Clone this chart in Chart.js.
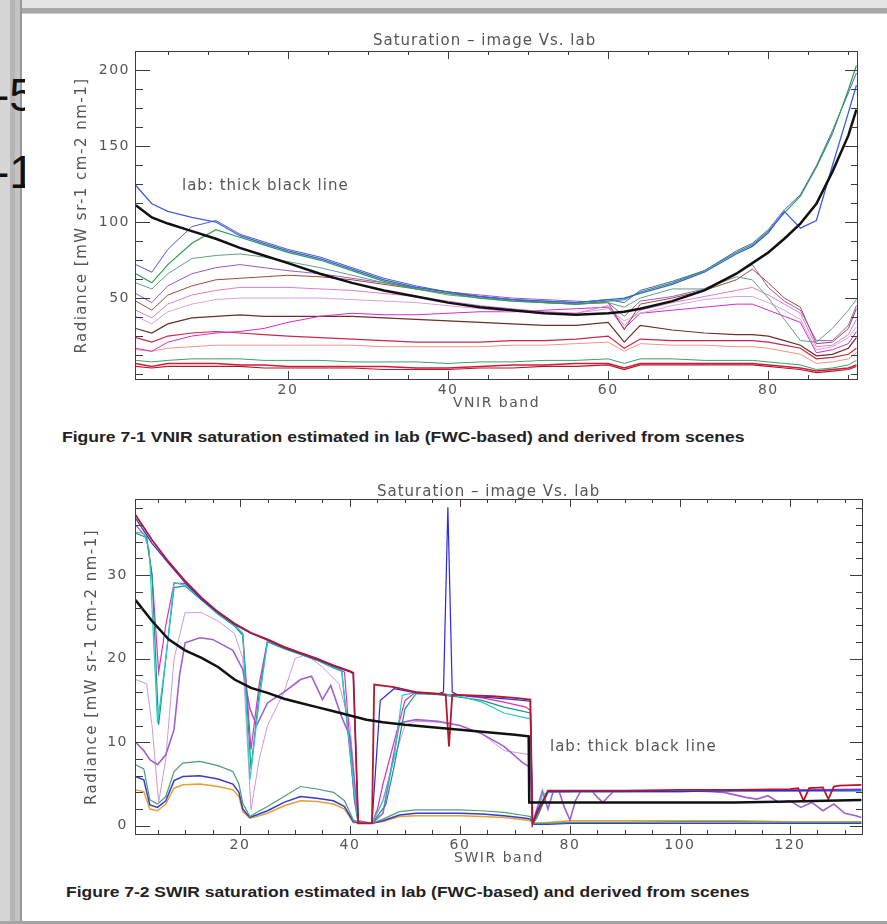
<!DOCTYPE html>
<html>
<head>
<meta charset="utf-8">
<script src="https://cdn.jsdelivr.net/npm/chart.js@4.4.0/dist/chart.umd.min.js"></script>
<style>
  body { margin: 0; width: 887px; height: 924px; background: #fff; position: relative; overflow: hidden; font-family: "DejaVu Sans", sans-serif; }
  .band-top { position: absolute; left: 0; top: 0; width: 887px; height: 14px;
    background: linear-gradient(#e4e4e4 0, #e4e4e4 8px, #a8a8a8 8px, #a8a8a8 13px, #cfcfcf 13px); }
  .band-left { position: absolute; left: 0; top: 0; width: 22px; height: 924px;
    background: linear-gradient(90deg, #d6d6d6 0, #d6d6d6 10px, #b6b6b6 10px, #b6b6b6 15px, #c4c4c4 15px, #c4c4c4 20px, #989898 20px); }
  .band-bottom { position: absolute; left: 0; top: 921px; width: 887px; height: 3px; background: #a4a4a4; }
  .behind { position: absolute; left: -6px; font: 46px "Liberation Sans", Arial, sans-serif; color: #111; line-height: 46px; }
  .clip { position: absolute; left: 0; top: 0; width: 25px; height: 924px; overflow: hidden; }
  .box { position: absolute; }
  .idl { position: absolute; color: #555; font-size: 15px; letter-spacing: 1px; white-space: nowrap; }
  .caption { position: absolute; font: bold 14px "Liberation Sans", Arial, sans-serif; color: #222; white-space: nowrap; transform-origin: left center; }
</style>
</head>
<body>
<div class="band-top"></div>
<div class="band-left"></div>
<div class="band-bottom"></div>
<div class="clip">
  <div class="behind" style="top:72px">-5</div>
  <div class="behind" style="top:149px">-1</div>
</div>

<div class="box" style="left:22px; top:14px"><canvas id="vnir" width="865" height="406"></canvas></div>
<div class="box" style="left:22px; top:445px"><canvas id="swir" width="865" height="430"></canvas></div>

<div class="idl" style="left:373px; top:31px">Saturation – image Vs. lab</div>
<div class="idl" style="left:182px; top:176px">lab: thick black line</div>
<div class="idl" style="left:377px; top:482px">Saturation – image Vs. lab</div>
<div class="idl" style="left:550px; top:737px">lab: thick black line</div>

<div class="caption" id="cap1" style="left:62px; top:429px">Figure 7-1 VNIR saturation estimated in lab (FWC-based) and derived from scenes</div>
<div class="caption" id="cap2" style="left:66px; top:884px">Figure 7-2 SWIR saturation estimated in lab (FWC-based) and derived from scenes</div>

<script>
// ---------- VNIR (top panel) ----------
const vnirBands = [1, 3, 5, 8, 11, 14, 17, 20, 24, 28, 32, 36, 40, 44, 48, 52, 56, 60, 62, 64, 68, 72, 76, 78, 80, 82, 84, 86, 88, 90, 91];
const vnirTicksX = [20, 40, 60, 80];
const vnirTicksY = [50, 100, 150, 200];

const vnirLab       = [111, 103, 99, 94, 89, 83, 78, 73, 66, 60, 55, 51, 47, 44, 42, 40, 39, 40, 41, 43, 48, 55, 66, 73, 80, 89, 99, 112, 133, 157, 174];
const vnirBlue      = [124, 112, 107, 103, 100, 91, 86, 81, 76, 69, 62, 57, 54, 51, 49, 48, 47, 49, 50, 53, 59, 67, 79, 84, 93, 107, 96, 101, 137, 172, 190];
const vnirGreen     = [66, 60, 72, 86, 95, 90, 85, 80, 75, 68, 61, 56, 53, 50, 48, 47, 46, 48, 49, 54, 60, 68, 80, 85, 94, 106, 117, 136, 158, 187, 203];
const vnirBlue2     = [72, 67, 82, 97, 101, 92, 87, 82, 77, 70, 63, 58, 54, 51, 49, 48, 47, 49, 47, 55, 61, 68, 81, 86, 95, 108, 118, 137, 160, 185, 198];
const vnirTeal      = [60, 56, 66, 76, 78, 79, 77, 74, 70, 65, 60, 56, 52, 50, 48, 47, 46, 47, 44, 50, 56, 56, 64, 62, 50, 36, 22, 21, 30, 42, 49];
const vnirPurple    = [53, 47, 58, 66, 70, 72, 70, 68, 66, 63, 60, 57, 54, 52, 50, 49, 48, 47, 38, 48, 51, 56, 66, 72, 57, 48, 42, 22, 22, 32, 45];
const vnirBrown     = [48, 42, 52, 58, 62, 63, 64, 65, 64, 62, 59, 56, 53, 51, 49, 47, 46, 47, 29, 46, 50, 55, 62, 69, 60, 50, 44, 20, 21, 30, 43];
const vnirPink      = [42, 37, 46, 52, 55, 57, 57, 57, 56, 55, 53, 51, 48, 45, 43, 41, 40, 45, 32, 42, 47, 51, 55, 57, 52, 46, 40, 18, 19, 26, 36];
const vnirLilac     = [38, 33, 41, 46, 49, 50, 50, 50, 50, 49, 48, 47, 45, 43, 41, 41, 40, 43, 35, 40, 45, 49, 51, 51, 47, 42, 36, 16, 18, 24, 31];
const vnirMagenta   = [17, 15, 21, 25, 27, 28, 30, 34, 38, 40, 39, 39, 40, 41, 41, 42, 43, 44, 30, 40, 42, 44, 46, 46, 42, 38, 34, 14, 16, 20, 28];
const vnirDarkBrown = [30, 27, 33, 37, 38, 39, 38, 38, 38, 38, 37, 36, 35, 34, 33, 32, 32, 34, 21, 32, 29, 27, 26, 26, 25, 22, 19, 12, 13, 17, 24];
const vnirRed       = [24, 21, 25, 27, 28, 27, 26, 25, 24, 23, 22, 21, 21, 21, 22, 22, 23, 25, 17, 23, 22, 22, 22, 22, 21, 19, 17, 10, 11, 13, 17];
const vnirSalmon    = [16, 15, 17, 18, 19, 19, 19, 19, 19, 19, 18, 18, 18, 18, 19, 19, 20, 21, 15, 20, 19, 19, 18, 18, 17, 15, 13, 7, 8, 10, 14];
const vnirGreenLow  = [9, 8, 9, 10, 10, 10, 9, 9, 9, 8, 8, 8, 7, 8, 8, 9, 9, 10, 7, 10, 10, 9, 9, 9, 8, 7, 6, 3, 4, 6, 9];
const vnirRedLow    = [7, 5, 7, 7, 7, 6, 6, 5, 5, 5, 5, 4, 4, 5, 6, 6, 7, 7, 4, 7, 7, 7, 7, 7, 6, 5, 4, 2, 3, 4, 6];
const vnirRedLow2   = [5, 4, 5, 5, 5, 5, 4, 4, 4, 4, 3, 3, 3, 4, 4, 5, 5, 6, 3, 6, 6, 6, 6, 6, 5, 4, 3, 1, 2, 3, 5];

// ---------- SWIR (bottom panel) ----------
const swirTicksX = [20, 40, 60, 80, 100, 120];
const swirTicksY = [0, 10, 20, 30];

const swirLabBands = [1, 4, 7, 10, 13, 16, 19, 22, 25, 28, 31, 34, 37, 40, 43, 46, 50, 55, 60, 65, 70, 72.5, 72.6, 80, 90, 100, 110, 120, 133];
const swirLab      = [27, 24.5, 22.3, 21, 20.1, 19, 17.5, 16.5, 15.9, 15.2, 14.7, 14.2, 13.7, 13.2, 12.7, 12.4, 12.1, 11.8, 11.5, 11.2, 10.9, 10.7, 2.8, 2.8, 2.8, 2.8, 2.8, 2.9, 3.1];

const swirRedBands = [1, 4, 7, 10, 13, 16, 19, 22, 25, 28, 31, 34, 37, 40, 40.6, 41.5, 44, 44.4, 48, 52, 56, 57.4, 58, 58.6, 62, 66, 70, 72.8, 73.2, 74, 76, 80, 90, 100, 110, 120, 121.5, 122.5, 123.5, 126, 127, 128, 129, 133];
const swirRed      = [37.2, 34.2, 31.6, 29.3, 27.3, 25.6, 24.2, 23.1, 22.3, 21.4, 20.7, 20, 19.2, 18.5, 18.3, 0.3, 0.3, 16.9, 16.6, 16, 15.8, 15.7, 9.5, 15.7, 15.6, 15.5, 15.3, 15.1, 0.2, 1.5, 4.2, 4.2, 4.2, 4.3, 4.3, 4.4, 4.5, 3, 4.5, 4.6, 3.2, 4.7, 4.8, 4.9];

const swirBlueBands = [1, 4, 7, 10, 13, 16, 19, 22, 25, 28, 31, 34, 37, 40, 40.6, 41.5, 44, 45.5, 48, 52, 56, 57, 57.8, 58.6, 59.5, 62, 66, 70, 72.8, 73.2, 74, 76, 80, 90, 100, 110, 120, 133];
const swirBlue      = [36.8, 33.8, 31.4, 29.1, 27.1, 25.5, 24.1, 23, 22.2, 21.3, 20.6, 19.9, 19.1, 18.4, 18.2, 0.3, 0.3, 15, 16.4, 15.9, 15.8, 16, 38.1, 16, 15.7, 15.5, 15.3, 15.1, 14.9, 0.2, 1.8, 4.1, 4.1, 4.1, 4.1, 4.2, 4.2, 4.3];

const swirCyanBands = [1, 2.5, 3.5, 5, 6.5, 8, 10, 13, 16, 19, 20.5, 21.8, 23.5, 25, 28, 31, 34, 37, 38.5, 40.8, 41.5, 44, 46, 48, 49.5, 52, 56, 60, 64, 68, 72.8, 73.2, 74, 75, 77, 80, 90, 100, 110, 120, 133];
const swirCyan      = [35.1, 35, 33, 12.3, 20, 29.1, 28.8, 27.1, 25.4, 24, 23, 5.5, 15, 22.1, 21.3, 20.6, 19.9, 19, 18.6, 4, 0.3, 0.3, 3, 8, 15.6, 16, 15.8, 15.5, 14.8, 13.5, 12.8, 0.2, 1.2, 3.8, 4.1, 4.1, 4.1, 4.2, 4.2, 4.2, 4.2];

const swirTealBands = [1, 3, 4, 5.2, 6.5, 8, 10, 13, 16, 19, 20.5, 22, 23.5, 25, 28, 31, 34, 37, 38.5, 40.8, 41.5, 44, 46.5, 48, 50, 52, 56, 60, 64, 68, 72.8, 73.2, 74, 76, 78, 80, 90, 100, 110, 120, 133];
const swirTeal      = [35, 34.5, 30, 12.1, 20, 28.5, 28.7, 27, 25.3, 23.9, 22.8, 6.8, 16, 22, 21.2, 20.5, 19.8, 18.9, 18.5, 3.5, 0.3, 0.3, 2.5, 7, 14, 15.8, 15.7, 15.4, 15, 14.2, 13.5, 0.2, 1, 4, 4.1, 4.1, 4.1, 4.1, 4.2, 4.2, 4.2];

const swirMagBands = [1, 3, 4, 5.2, 6.5, 8, 10, 13, 16, 19, 20.5, 22, 23.5, 25, 28, 31, 34, 37, 39, 40.8, 41.5, 44, 45, 46, 48, 50, 52, 56, 60, 64, 68, 72, 72.8, 73.2, 74, 76, 78, 80, 82, 90, 100, 110, 120, 133];
const swirMagenta  = [36, 34.5, 30, 18.4, 24, 29, 29, 27.2, 25.5, 24, 23, 9.1, 17, 22.2, 21.4, 20.7, 20, 19.1, 18.4, 3, 0.3, 0.3, 2, 5, 10, 15, 16, 15.8, 15.6, 15.3, 14.8, 14.2, 13.8, 0.2, 1, 4.1, 4.1, 4.1, 4.2, 4.2, 4.2, 4.3, 4.3, 4.4];

const swirPurpleBands = [1, 2.5, 3.6, 5, 6.5, 8, 9, 10, 12.7, 15, 18.7, 20.5, 21.8, 23, 25, 28, 31, 33, 34, 35, 36.5, 38.5, 40, 41.5, 44, 46, 49, 52, 56, 60, 64, 68, 71.5, 72.8, 73.2, 74, 75, 76, 77, 78, 79, 80, 81, 82, 84, 85, 86, 87, 88, 90, 95, 100, 105, 108, 110, 112, 114, 116, 118, 120, 122, 124, 126, 128, 130, 132, 133];
const swirPurple      = [10, 9, 7.9, 7.3, 8.5, 11.5, 18, 21.9, 22.5, 22.3, 21, 18.7, 14, 12, 14.7, 16, 17.5, 17.9, 16.5, 15.1, 16.8, 13, 10.7, 0.6, 0.3, 1.5, 12.3, 12.7, 12.5, 12, 11, 9.5, 7.5, 7, 0.3, 2, 4.2, 2, 4.2, 4.2, 2.2, 0.7, 3, 4.2, 4.2, 3.4, 2.8, 3.5, 4.2, 4.2, 4.2, 4.2, 4.1, 4, 3.7, 3.4, 3.2, 3.6, 2.8, 3, 2.2, 2.8, 1.8, 2.6, 1.5, 1.2, 1];

const swirLilacBands = [1, 3, 4, 5.2, 6.5, 8, 10, 13, 16, 19, 20.5, 22, 23.5, 25, 28, 30, 32, 35, 38, 40, 41.5, 44, 46, 48, 50, 52, 56, 60, 64, 68, 72.8, 73.2, 74, 76, 80, 90, 100, 110, 120, 133];
const swirLilac      = [17.5, 17, 12, 2.8, 8, 20, 25.5, 25.5, 24.5, 23, 20, 1.9, 8, 12, 16, 20, 20.5, 19, 17, 12, 0.5, 0.3, 3, 8, 12, 12.5, 12.4, 12, 11, 9, 8.5, 0.2, 1, 4, 4.1, 4.1, 4.1, 4.1, 4.1, 4.1];

const swirLowBands = [1, 2.5, 3.6, 5, 6.5, 8, 9.6, 12.7, 16, 18.7, 19.8, 20.5, 21.8, 23, 25, 28, 31, 34, 37, 39, 40.6, 42, 44, 46, 49, 52, 56, 60, 64, 68, 72, 72.8, 73.5, 76, 80, 90, 100, 110, 120, 133];
const swirLowGreen  = [7.3, 6.8, 3.1, 2.6, 3.5, 6.5, 7.5, 7.7, 7.2, 6.5, 5, 2.7, 1.1, 1.6, 2.3, 3.5, 4.7, 4.4, 4, 3, 0.7, 0.4, 0.3, 0.8, 1.7, 1.9, 1.9, 1.9, 1.8, 1.6, 1.2, 1.1, 0.3, 0.3, 0.4, 0.4, 0.5, 0.5, 0.4, 0.4];
const swirLowBlue   = [5.9, 5.5, 2.5, 2.2, 3, 5.4, 5.9, 6, 5.6, 5, 4, 2, 1, 1.3, 1.8, 2.8, 3.5, 3.3, 3, 2.3, 0.5, 0.3, 0.3, 0.6, 1.3, 1.5, 1.5, 1.5, 1.4, 1.2, 0.9, 0.8, 0.2, 0.2, 0.3, 0.3, 0.3, 0.3, 0.3, 0.3];
const swirLowOrange = [4.3, 4.1, 2, 1.8, 2.6, 4.5, 4.9, 5, 4.7, 4.3, 3.5, 1.7, 0.9, 1.1, 1.5, 2.4, 3, 2.9, 2.6, 2, 0.4, 0.3, 0.3, 0.5, 1.1, 1.2, 1.2, 1.2, 1.1, 1, 0.7, 0.6, 0.3, 0.4, 0.6, 0.6, 0.6, 0.6, 0.5, 0.5];


function line(xs, ys, color, width) {
    return {
        data: xs.map((x, i) => ({ x: x, y: ys[i] })),
        borderColor: color,
        borderWidth: width || 1,
        pointRadius: 0,
        tension: 0,
        fill: false
    };
}

// IDL style box with inward ticks on all four sides
const idlFrame = {
    id: 'idlFrame',
    beforeDraw(chart) {
        // the IDL vector font is wide, spread the canvas text a bit
        chart.ctx.letterSpacing = '1.5px';
    },
    afterDraw(chart, args, opts) {
        const { ctx, chartArea: a, scales: { x, y } } = chart;
        ctx.save();
        ctx.strokeStyle = '#3c3c3c';
        ctx.lineWidth = 1;
        ctx.strokeRect(a.left + 0.5, a.top + 0.5, a.right - a.left - 1, a.bottom - a.top - 1);
        ctx.beginPath();
        for (let v = opts.xMinor; v < x.max; v += opts.xMinor) {
            const px = Math.round(x.getPixelForValue(v)) + 0.5;
            const major = opts.xMajor.includes(v);
            ctx.moveTo(px, a.bottom); ctx.lineTo(px, a.bottom - (major ? 9 : 5));
            ctx.moveTo(px, a.top); ctx.lineTo(px, a.top + (major ? 8 : 4));
        }
        for (let v = Math.ceil(y.min / opts.yMinor) * opts.yMinor; v < y.max; v += opts.yMinor) {
            const py = Math.round(y.getPixelForValue(v)) + 0.5;
            const major = opts.yMajor.includes(v);
            ctx.moveTo(a.left, py); ctx.lineTo(a.left + (major ? 15 : 8), py);
            ctx.moveTo(a.right, py); ctx.lineTo(a.right - (major ? 13 : 7), py);
        }
        ctx.stroke();
        ctx.restore();
    }
};

const tickFont = { family: 'DejaVu Sans', size: 14 };
const yTitleFont = { family: 'DejaVu Sans', size: 15 };

function axes(xr, yr, xTicks, yTicks, xTitle, yTitlePad, xPadX, yPadY, xTitlePad, xAxisH) {
    return {
        x: {
            type: 'linear', min: xr[0], max: xr[1],
            afterBuildTicks: s => { s.ticks = xTicks.map(v => ({ value: v })); },
            afterFit: s => { s.height = xAxisH; },
            grid: { display: false, drawTicks: false },
            border: { display: false },
            ticks: { color: '#555', font: tickFont, padding: xPadX, maxRotation: 0, autoSkip: false },
            title: { display: true, text: xTitle, color: '#555', font: tickFont, padding: { top: 0, bottom: xTitlePad } }
        },
        y: {
            type: 'linear', min: yr[0], max: yr[1],
            afterBuildTicks: s => { s.ticks = yTicks.map(v => ({ value: v })); },
            afterFit: s => { s.width = 113; },
            grid: { display: false, drawTicks: false },
            border: { display: false },
            ticks: { color: '#555', font: tickFont, padding: yPadY },
            title: { display: true, text: 'Radiance [mW sr-1 cm-2 nm-1]', color: '#555', font: yTitleFont, padding: { top: yTitlePad, bottom: 0 } }
        }
    };
}

Chart.defaults.font.family = 'DejaVu Sans';

new Chart(document.getElementById('vnir'), {
    type: 'line',
    data: {
        datasets: [
            line(vnirBands, vnirLab, '#111111', 2.5),
            line(vnirBands, vnirBlue, '#3b5ee0', 1.3),
            line(vnirBands, vnirGreen, '#2aa04a', 1.2),
            line(vnirBands, vnirBlue2, '#4f58d8', 1),
            line(vnirBands, vnirTeal, '#5f9f8a', 1),
            line(vnirBands, vnirPurple, '#9a58c8', 1),
            line(vnirBands, vnirBrown, '#a04838', 1),
            line(vnirBands, vnirPink, '#e27ccc', 1),
            line(vnirBands, vnirLilac, '#d8a2e6', 1),
            line(vnirBands, vnirMagenta, '#d42cc8', 1),
            line(vnirBands, vnirDarkBrown, '#6a3028', 1.2),
            line(vnirBands, vnirRed, '#c8284a', 1.2),
            line(vnirBands, vnirSalmon, '#f29484', 1),
            line(vnirBands, vnirGreenLow, '#3aa066', 1),
            line(vnirBands, vnirRedLow, '#d8183a', 1.5),
            line(vnirBands, vnirRedLow2, '#b01a2a', 1.2)
        ]
    },
    options: {
        responsive: false,
        animation: false,
        layout: { padding: { left: 0, right: 29, top: 37, bottom: 0 } },
        scales: axes([0.9, 91.2], [-3.9, 212.5], vnirTicksX, vnirTicksY, 'VNIR band', 51, 2, 5, 8, 40),
        plugins: {
            legend: { display: false },
            tooltip: { enabled: false },
            idlFrame: { xMinor: 5, xMajor: vnirTicksX, yMinor: 12.5, yMajor: vnirTicksY }
        }
    },
    plugins: [idlFrame]
});

new Chart(document.getElementById('swir'), {
    type: 'line',
    data: {
        datasets: [
            line(swirLabBands, swirLab, '#111111', 2.5),
            line(swirRedBands, swirRed, '#b3182e', 1.8),
            line(swirBlueBands, swirBlue, '#2a2ae0', 1.2),
            line(swirCyanBands, swirCyan, '#2cc8cc', 1.2),
            line(swirTealBands, swirTeal, '#139a78', 1.2),
            line(swirMagBands, swirMagenta, '#e030c4', 1.2),
            line(swirPurpleBands, swirPurple, '#a060d0', 1.6),
            line(swirLilacBands, swirLilac, '#cc98e4', 1),
            line(swirLowBands, swirLowGreen, '#4a9e78', 1.2),
            line(swirLowBands, swirLowBlue, '#3a3ad0', 1.5),
            line(swirLowBands, swirLowOrange, '#e8a030', 1.5)
        ]
    },
    options: {
        responsive: false,
        animation: false,
        layout: { padding: { left: 0, right: 24, top: 54, bottom: 0 } },
        scales: axes([0.9, 133.3], [-1.1, 39.1], swirTicksX, swirTicksY, 'SWIR band', 61, 2, 7, 8, 40),
        plugins: {
            legend: { display: false },
            tooltip: { enabled: false },
            idlFrame: { xMinor: 5, xMajor: swirTicksX, yMinor: 2, yMajor: swirTicksY }
        }
    },
    plugins: [idlFrame]
});

// squeeze the captions to the width they have in the document
[['cap1', 683], ['cap2', 684]].forEach(([id, w]) => {
    const el = document.getElementById(id);
    el.style.transform = 'scaleX(' + (w / el.offsetWidth) + ')';
});
</script>
</body>
</html>
